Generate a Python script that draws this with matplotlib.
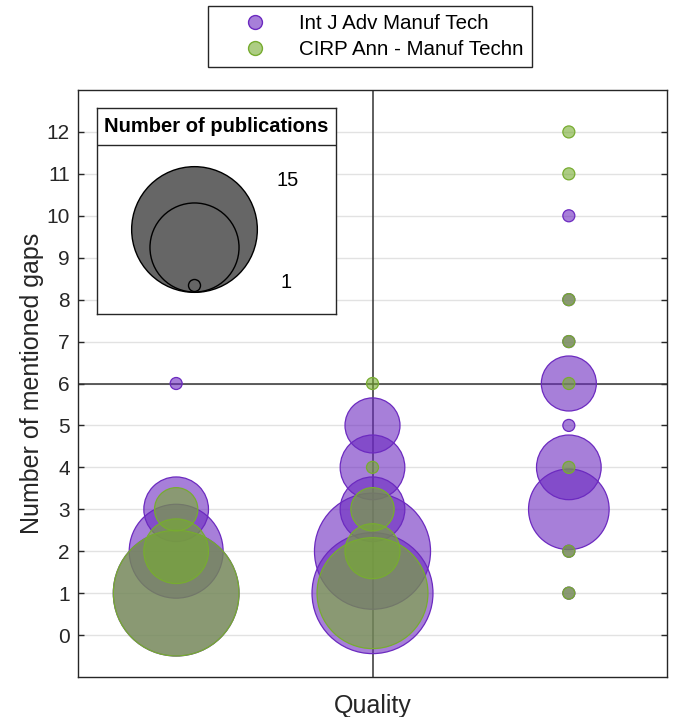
import numpy as np
import matplotlib
matplotlib.use("Agg")
import matplotlib.pyplot as plt
from matplotlib.lines import Line2D

plt.rcParams['font.family'] = ['Liberation Sans', 'DejaVu Sans']

# ---------------- data ----------------
series_names = ["Int J Adv Manuf Tech", "CIRP Ann - Manuf Techn"]

purple_x = [1, 1, 1, 1, 2, 2, 2, 2, 2, 3, 3, 3, 3, 3, 3, 3, 3, 3]
purple_y = [1, 2, 3, 6, 1, 2, 3, 4, 5, 1, 2, 3, 4, 5, 6, 7, 8, 10]
purple_n = [15, 9, 5, 1, 14, 13, 5, 5, 4, 1, 1, 7, 5, 1, 4, 1, 1, 1]

green_x = [1, 1, 1, 2, 2, 2, 2, 2, 3, 3, 3, 3, 3, 3, 3, 3]
green_y = [1, 2, 3, 1, 2, 3, 4, 6, 1, 2, 4, 6, 7, 8, 11, 12]
green_n = [15, 5, 3, 12, 4, 3, 1, 1, 1, 1, 1, 1, 1, 1, 1, 1]

y_ticks = list(range(0, 13))
x_label = "Quality"
y_label = "Number of mentioned gaps"
size_legend_title = "Number of publications"

# ---------------- style ----------------
DPI = 100
W, H = 673, 717
purple = '#6c2ac0'
green = '#77ac30'
alpha = 0.6
dark = '#262626'

# bubble size mapping (area linear, pixel diameters)
D_MIN = 13.0
def diam_px(v):
    v = np.asarray(v, dtype=float)
    a = 1174.0 * v - 1560.0
    return np.sqrt(np.maximum(a, D_MIN ** 2)) - 1.0

def s_pts(v):
    return (diam_px(v) * 72.0 / DPI) ** 2

fig = plt.figure(figsize=(W / DPI, H / DPI), dpi=DPI)
ax = fig.add_axes([78 / W, 1 - 677 / H, (667 - 78) / W, (677 - 90) / H])

ax.set_xlim(0.5, 3.5)
ax.set_ylim(-1, 13)
ax.set_yticks(y_ticks)
ax.set_xticks([])
ax.yaxis.grid(True, color='#e2e2e2', linewidth=1.0, zorder=0)
ax.set_axisbelow(True)
ax.tick_params(axis='y', direction='in', length=4.5, width=1, left=True, right=True,
               labelsize=15, colors=dark, pad=6)
for sp in ax.spines.values():
    sp.set_color(dark)
    sp.set_linewidth(1.0)

ax.axvline(2, color='#333333', linewidth=1.1, zorder=1.5)
ax.axhline(6, color='#333333', linewidth=1.1, zorder=1.5)

def draw(xs, ys, ns, col, z):
    order = np.argsort(-np.asarray(ns), kind='stable')
    xs = np.asarray(xs)[order]
    ys = np.asarray(ys)[order]
    ns = np.asarray(ns)[order]
    ax.scatter(xs, ys, s=s_pts(ns), facecolor=matplotlib.colors.to_rgba(col, alpha),
               edgecolor=col, linewidth=0.9, zorder=z)

draw(purple_x, purple_y, purple_n, purple, 2)
draw(green_x, green_y, green_n, green, 3)

ax.set_xlabel(x_label, fontsize=18, color=dark, labelpad=12)
ax.set_ylabel(y_label, fontsize=18, color=dark, labelpad=2)

# ---------------- series legend ----------------
handles = [Line2D([], [], linestyle='none', marker='o', markersize=10,
                  markerfacecolor=matplotlib.colors.to_rgba(c, alpha),
                  markeredgecolor=c, markeredgewidth=1.0)
           for c in (purple, green)]
leg = fig.legend(handles, series_names, loc='upper left',
                 bbox_to_anchor=(208 / W, 1 - 6 / H), borderaxespad=0,
                 fontsize=14.8, frameon=True, fancybox=False, framealpha=1,
                 edgecolor=dark, borderpad=0.4, handlelength=3.8,
                 handletextpad=0.25, labelspacing=0.33)
leg.get_frame().set_linewidth(1.0)
for t in leg.get_texts():
    t.set_color('black')

# ---------------- bubble size legend ----------------
bx0, by0, bx1, by1 = 97, 108, 336, 314
bw, bh = bx1 - bx0, by1 - by0
lax = fig.add_axes([bx0 / W, 1 - by1 / H, bw / W, bh / H], zorder=5)
lax.set_xlim(0, bw)
lax.set_ylim(0, bh)
lax.set_xticks([])
lax.set_yticks([])
lax.set_facecolor('white')
for sp in lax.spines.values():
    sp.set_color(dark)
    sp.set_linewidth(1.0)
sep_y = by1 - 145
lax.plot([0, bw], [sep_y, sep_y], color=dark, linewidth=1.0)
lax.text(bw / 2, (bh + sep_y) / 2, size_legend_title, ha='center', va='center',
         fontsize=14.5, fontweight='bold', color='black')

vmin, vmax = min(purple_n + green_n), max(purple_n + green_n)
d_big = diam_px(vmax) + 1.0
d_small = diam_px(vmin) + 1.0
d_mid = np.sqrt((d_big ** 2 + d_small ** 2) / 2)
cx = 194 - bx0
base = by1 - 292
for d in (d_big, d_mid, d_small):
    lax.scatter([cx], [base + d / 2], s=((d - 1) * 72.0 / DPI) ** 2,
                facecolor='#666666', edgecolor='black', linewidth=1.0, zorder=3)
lax.text(288 - bx0, by1 - 181, str(vmax), ha='center', va='center', fontsize=14.5)
lax.text(286 - bx0, by1 - 283, str(vmin), ha='center', va='center', fontsize=14.5)

fig.savefig('out.png', dpi=DPI)
